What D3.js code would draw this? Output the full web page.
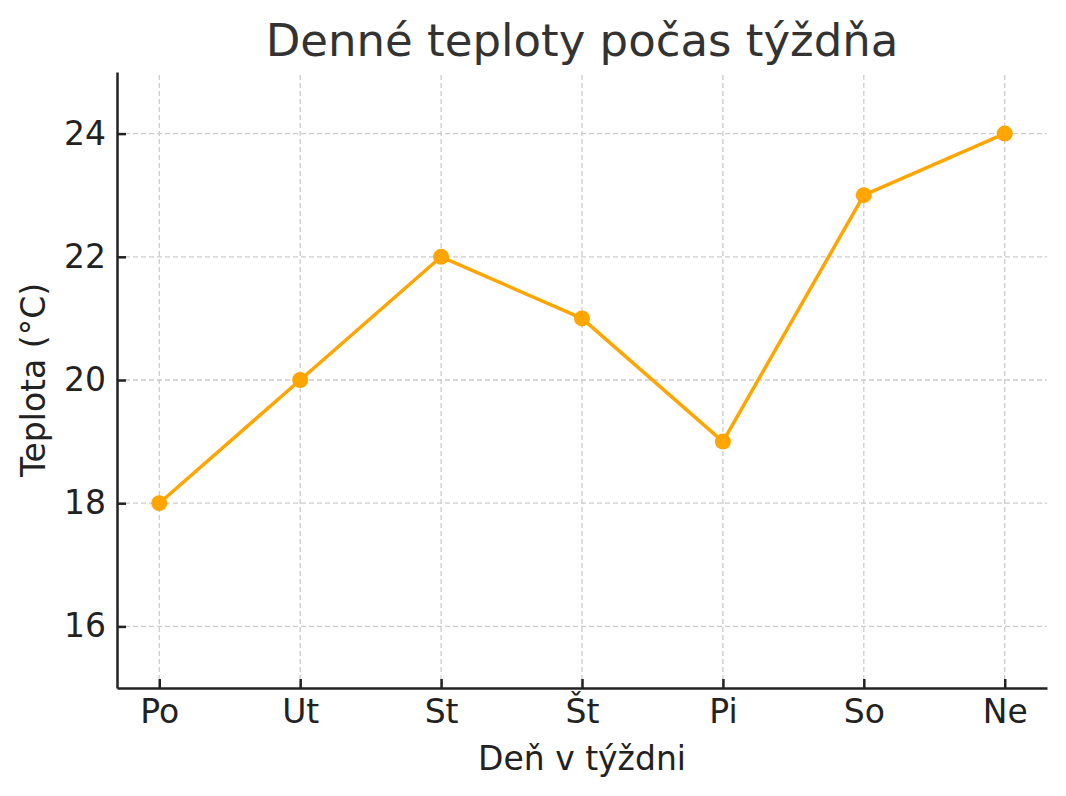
<!DOCTYPE html>
<html>
<head>
<meta charset="utf-8">
<script src="https://cdn.jsdelivr.net/npm/d3@7"></script>
<style>
  body { margin: 0; background: #fff; }
  text { font-family: "DejaVu Sans", sans-serif; }
</style>
</head>
<body>
<div id="chart"></div>
<script>
// Data
const days = ["Po", "Ut", "St", "Št", "Pi", "So", "Ne"];
const temps = [18, 20, 22, 21, 19, 23, 24];
const yTicks = [16, 18, 20, 22, 24];

const width = 1066, height = 796;
const margin = { top: 72, right: 19, bottom: 108, left: 117 };

const svg = d3.select("#chart").append("svg")
  .attr("width", width)
  .attr("height", height);

const x = d3.scaleLinear()
  .domain([-0.3, days.length - 1 + 0.3])
  .range([margin.left, width - margin.right]);

const y = d3.scaleLinear()
  .domain([15, 25])
  .range([height - margin.bottom, margin.top]);

// Grid
svg.append("g")
  .selectAll("line")
  .data(days.map((d, i) => i))
  .join("line")
  .attr("x1", d => x(d)).attr("x2", d => x(d))
  .attr("y1", y(15)).attr("y2", y(25))
  .attr("stroke", "#cccccc")
  .attr("stroke-width", 1.3)
  .attr("stroke-dasharray", "5,3");

svg.append("g")
  .selectAll("line")
  .data(yTicks)
  .join("line")
  .attr("x1", x(-0.3)).attr("x2", x(6.3))
  .attr("y1", d => y(d)).attr("y2", d => y(d))
  .attr("stroke", "#cccccc")
  .attr("stroke-width", 1.3)
  .attr("stroke-dasharray", "5,3");

// Axes
const xAxis = svg.append("g")
  .attr("transform", `translate(0,${y(15)})`)
  .call(d3.axisBottom(x)
    .tickValues(days.map((d, i) => i))
    .tickFormat(i => days[i])
    .tickSizeInner(-9)
    .tickSizeOuter(0)
    .tickPadding(12));

const yAxis = svg.append("g")
  .attr("transform", `translate(${x(-0.3)},0)`)
  .call(d3.axisLeft(y)
    .tickValues(yTicks)
    .tickSizeInner(-9)
    .tickSizeOuter(0)
    .tickPadding(11));

[xAxis, yAxis].forEach(g => {
  g.attr("font-family", null).attr("font-size", null);
  g.select(".domain").attr("stroke", "#222").attr("stroke-width", 2.5);
  g.selectAll(".tick line").attr("stroke", "#222").attr("stroke-width", 2.5);
  g.selectAll(".tick text")
    .attr("fill", "#222")
    .style("font-size", "33px")
    .style("font-family", "DejaVu Sans, sans-serif");
});

// Line
const line = d3.line()
  .x((d, i) => x(i))
  .y(d => y(d));

svg.append("path")
  .datum(temps)
  .attr("fill", "none")
  .attr("stroke", "#FFA500")
  .attr("stroke-width", 3.5)
  .attr("stroke-linejoin", "round")
  .attr("d", line);

svg.append("g")
  .selectAll("circle")
  .data(temps)
  .join("circle")
  .attr("cx", (d, i) => x(i))
  .attr("cy", d => y(d))
  .attr("r", 8)
  .attr("fill", "#FFA500");

// Titles
svg.append("text")
  .attr("x", (x(-0.3) + x(6.3)) / 2)
  .attr("y", 56)
  .attr("text-anchor", "middle")
  .attr("fill", "#333")
  .style("font-size", "45px")
  .text("Denné teploty počas týždňa");

svg.append("text")
  .attr("x", (x(-0.3) + x(6.3)) / 2)
  .attr("y", 770)
  .attr("text-anchor", "middle")
  .attr("fill", "#222")
  .style("font-size", "33px")
  .text("Deň v týždni");

svg.append("text")
  .attr("transform", `translate(45,${(y(15) + y(25)) / 2}) rotate(-90)`)
  .attr("text-anchor", "middle")
  .attr("fill", "#222")
  .style("font-size", "33px")
  .text("Teplota (°C)");
</script>
</body>
</html>
